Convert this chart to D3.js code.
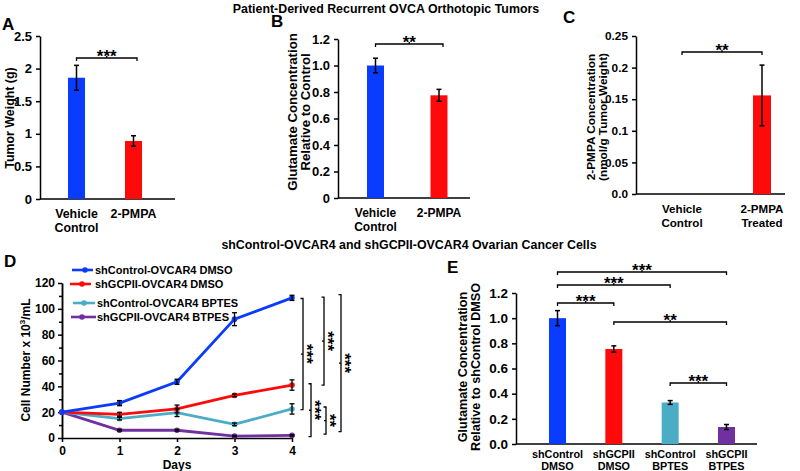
<!DOCTYPE html>
<html><head><meta charset="utf-8">
<script src="https://cdn.jsdelivr.net/npm/d3@7"></script>
<style>
body{margin:0;background:#fff;}
svg{display:block;font-family:"Liberation Sans",Arial,sans-serif;font-weight:bold;}
</style></head>
<body><svg id="c" width="800" height="471"></svg>
<script>
// ---------- DATA ----------
const titleTop = "Patient-Derived Recurrent OVCA Orthotopic Tumors";
const titleBottom = "shControl-OVCAR4 and shGCPII-OVCAR4 Ovarian Cancer Cells";

const catA = [["Vehicle","Control"],["2-PMPA"]];
const tumorWeight = [1.86, 0.89];
const tumorWeightErr = [0.19, 0.08];
const ticksA = [0, 0.5, 1, 1.5, 2, 2.5];
const tickLabelsA = ["0","0.5","1","1.5","2","2.5"];

const catB = [["Vehicle","Control"],["2-PMPA"]];
const glutB = [1.0, 0.775];
const glutBErr = [0.055, 0.045];
const ticksB = [0, 0.2, 0.4, 0.6, 0.8, 1.0, 1.2];
const tickLabelsB = ["0","0.2","0.4","0.6","0.8","1.0","1.2"];

const catC = [["Vehicle","Control"],["2-PMPA","Treated"]];
const pmpaConc = [0, 0.156];
const pmpaConcErr = [0, 0.048];
const ticksC = [0, 0.05, 0.1, 0.15, 0.2, 0.25];
const tickLabelsC = ["0.0","0.05","0.1","0.15","0.2","0.25"];

const days = [0, 1, 2, 3, 4];
const seriesNames = ["shControl-OVCAR4 DMSO","shGCPII-OVCAR4 DMSO","shControl-OVCAR4 BPTES","shGCPII-OVCAR4 BTPES"];
const shCtrlDMSO = [20, 27, 43.5, 92, 108.5];
const shCtrlDMSOErr = [0.5, 2, 2, 5, 2];
const shGCPIIDMSO = [20, 18.3, 22.5, 33, 41];
const shGCPIIDMSOErr = [0.5, 1.5, 3, 1, 4];
const shCtrlBPTES = [20, 15, 19.6, 10.6, 22.5];
const shCtrlBPTESErr = [0.5, 1, 3, 1, 4];
const shGCPIIBTPES = [20, 6, 6, 1.5, 2];
const shGCPIIBTPESErr = [0.5, 0.6, 0.6, 0.5, 0.5];
const ticksD = [0, 20, 40, 60, 80, 100, 120];
const minorTicksD = [10, 30, 50, 70, 90, 110];

const catE = [["shControl","DMSO"],["shGCPII","DMSO"],["shControl","BPTES"],["shGCPII","BTPES"]];
const glutE = [1.0, 0.755, 0.33, 0.135];
const glutEErr = [0.06, 0.025, 0.015, 0.02];
const ticksE = [0, 0.2, 0.4, 0.6, 0.8, 1.0, 1.2];
const tickLabelsE = ["0.0","0.2","0.4","0.6","0.8","1.0","1.2"];

// significance annotations
const sigA = [{from:0, to:1, label:"***"}];
const sigB = [{from:0, to:1, label:"**"}];
const sigC = [{from:0, to:1, label:"**"}];
const sigE = [{from:0,to:3,label:"***"},{from:0,to:2,label:"***"},{from:0,to:1,label:"***"},{from:1,to:3,label:"**"},{from:2,to:3,label:"***"}];
// D: vertical brackets (value ranges on the y scale)
const sigD = [
  {lo:22, hi:108, label:"***"},
  {lo:41, hi:109, label:"***"},
  {lo:5, hi:111, label:"***"},
  {lo:1, hi:42, label:"***"},
  {lo:3, hi:24, label:"**"}
];

// ---------- DRAW ----------
const svg = d3.select("#c");
const BLUE="#0a3cff", RED="#ff0a0a", CYAN="#4bacc6", PURPLE="#7030a0";

function txt(g, x, y, s, size, anchor){
  return g.append("text").attr("x",x).attr("y",y).text(s)
    .attr("font-size",size).attr("text-anchor",anchor||"middle").attr("fill","#000");
}

svg.append("text").attr("x",386).attr("y",12.5).attr("text-anchor","middle").attr("font-size",12.4).text(titleTop);
svg.append("text").attr("x",409).attr("y",249).attr("text-anchor","middle").attr("font-size",12.4).text(titleBottom);

function styleAxis(g, fs){
  g.select(".domain").attr("stroke","#000").attr("stroke-width",1.5);
  g.selectAll(".tick line").attr("stroke","#000").attr("stroke-width",1.5);
  g.selectAll(".tick text").attr("font-size",fs||12).attr("font-weight","bold").attr("fill","#000")
    .attr("font-family","Liberation Sans, Arial, sans-serif");
}

const STAR = 17;

function barPanel(o){
  const g = svg.append("g");
  const y = d3.scaleLinear().domain([0, o.max]).range([o.yBot, o.yTop]);
  const x = d3.scalePoint().domain(o.cats.map((d,i)=>i)).range(o.xr);
  const ax = g.append("g").attr("transform",`translate(${o.x0},0)`)
    .call(d3.axisLeft(y).tickValues(o.ticks).tickFormat((d,i)=>o.tickLabels[i]).tickSize(4).tickSizeOuter(0));
  styleAxis(ax, o.tickFs);
  ax.selectAll(".tick text").attr("dx",-1);
  g.append("line").attr("x1",o.x0).attr("x2",o.xEnd).attr("y1",o.yBot).attr("y2",o.yBot)
    .attr("stroke","#000").attr("stroke-width",1.5);
  const bw = o.bw || 17;
  o.vals.forEach((v,i)=>{
    if (v>0){
      g.append("rect").attr("x",x(i)-bw/2).attr("width",bw).attr("y",y(v)).attr("height",y(0)-y(v))
        .attr("fill",o.colors[i]);
    }
    const e=o.errs[i];
    if (e>0){
      g.append("line").attr("x1",x(i)).attr("x2",x(i)).attr("y1",y(v+e)).attr("y2",y(v-e)).attr("stroke","#000").attr("stroke-width",1.5);
      [v+e,v-e].forEach(t=>g.append("line").attr("x1",x(i)-2.5).attr("x2",x(i)+2.5).attr("y1",y(t)).attr("y2",y(t)).attr("stroke","#000").attr("stroke-width",1.5));
    }
  });
  o.cats.forEach((lines,i)=>{
    lines.forEach((s,j)=>txt(g, x(i), o.yBot+o.catDy+j*o.catLh, s, o.catFs));
  });
  txt(g, o.letter[1], o.letter[2], o.letter[0], 17, "start");
  const yl = g.append("text").attr("transform",`translate(${o.ylab[0]},${o.ylab[1]}) rotate(-90)`)
    .attr("text-anchor","middle").attr("font-size",o.ylabFs);
  o.ylabLines.forEach((s,j)=>yl.append("tspan").attr("x",0).attr("dy", j===0?0:o.ylabLh).text(s));
  o.sig.forEach((s,k)=>{
    const by = o.sigY[k];
    const x1 = x(s.from)+(o.sigOff?o.sigOff[k][0]:0), x2 = x(s.to)+(o.sigOff?o.sigOff[k][1]:0);
    const p = d3.path();
    p.moveTo(x1, by+3); p.lineTo(x1, by); p.lineTo(x2, by); p.lineTo(x2, by+3);
    g.append("path").attr("d",p.toString()).attr("fill","none").attr("stroke","#000").attr("stroke-width",1.3);
    g.append("line").attr("x1",(x1+x2)/2).attr("x2",(x1+x2)/2).attr("y1",by).attr("y2",by-2).attr("stroke","#000").attr("stroke-width",1.3);
    txt(g,(x1+x2)/2, by+4, s.label, STAR);
  });
  return {x,y};
}

barPanel({cats:catA, vals:tumorWeight, errs:tumorWeightErr, colors:[BLUE,RED], max:2.5,
  ticks:ticksA, tickLabels:tickLabelsA, tickFs:13, catFs:12.4, catDy:18.5, catLh:14.5,
  x0:40, xEnd:175, yBot:199, yTop:36, xr:[76.5,133.5],
  letter:["A",2,30], ylab:[14,118], ylabFs:12.4, ylabLh:13, ylabLines:["Tumor Weight (g)"], sig:sigA, sigY:[58], sigOff:[[0,3.5]]});

barPanel({cats:catB, vals:glutB, errs:glutBErr, colors:[BLUE,RED], max:1.2,
  ticks:ticksB, tickLabels:tickLabelsB, tickFs:13, catFs:12, catDy:18.5, catLh:14.5,
  x0:338, xEnd:470, yBot:198, yTop:39, xr:[375.5,439],
  letter:["B",271,27], ylab:[297,112], ylabFs:13.2, ylabLh:12.5, ylabLines:["Glutamate Concentration","Relative to Control"], sig:sigB, sigY:[44], sigOff:[[0,4]]});

barPanel({cats:catC, vals:pmpaConc, errs:pmpaConcErr, colors:[BLUE,RED], max:0.25, bw:18,
  ticks:ticksC, tickLabels:tickLabelsC, tickFs:11.8, catFs:11.6, catDy:18.5, catLh:14,
  x0:636, xEnd:785, yBot:194, yTop:36, xr:[682,762],
  letter:["C",563,23], ylab:[595,117], ylabFs:11.8, ylabLh:11.5, ylabLines:["2-PMPA Concentration","(nmol/g Tumor Weight)"], sig:sigC, sigY:[52]});

barPanel({cats:catE, vals:glutE, errs:glutEErr, colors:[BLUE,RED,CYAN,PURPLE], max:1.2,
  ticks:ticksE, tickLabels:tickLabelsE, tickFs:13.5, catFs:10.8, catDy:14, catLh:11.5,
  x0:516, xEnd:757, yBot:444, yTop:293, xr:[557.5,726.5],
  letter:["E",447,273], ylab:[467,367], ylabFs:12.6, ylabLh:13, ylabLines:["Glutamate Concentration","Relative to shControl DMSO"],
  sig:sigE, sigY:[272,285,303,322,383]});

// ---------- Panel D ----------
(function(){
  const g = svg.append("g");
  const x = d3.scaleLinear().domain([0,4]).range([62,292]);
  const y = d3.scaleLinear().domain([0,120]).range([438,283]);
  const axl = g.append("g").attr("transform","translate(62,0)")
    .call(d3.axisLeft(y).tickValues(ticksD).tickFormat(d3.format("d")).tickSize(4).tickSizeOuter(0));
  styleAxis(axl, 12);
  const axm = g.append("g").attr("transform","translate(62,0)")
    .call(d3.axisLeft(y).tickValues(minorTicksD).tickFormat("").tickSize(3).tickSizeOuter(0));
  styleAxis(axm);
  const axb = g.append("g").attr("transform","translate(0,438)")
    .call(d3.axisBottom(x).tickValues(days).tickFormat(d3.format("d")).tickSize(4).tickSizeOuter(0));
  styleAxis(axb, 12);
  axb.selectAll(".tick text").attr("dy","0.85em");
  txt(g, 177, 469, "Days", 12);
  txt(g, 4, 267, "D", 17, "start");
  const yl = g.append("text").attr("transform","translate(30,360) rotate(-90)").attr("text-anchor","middle")
    .attr("font-size",12);
  yl.append("tspan").text("Cell Number x 10");
  yl.append("tspan").attr("font-size",8).attr("dy",-5).text("3");
  yl.append("tspan").attr("dy",5).text("/mL");

  const series = [
    {v:shCtrlDMSO, e:shCtrlDMSOErr, c:BLUE},
    {v:shGCPIIDMSO, e:shGCPIIDMSOErr, c:RED},
    {v:shCtrlBPTES, e:shCtrlBPTESErr, c:CYAN},
    {v:shGCPIIBTPES, e:shGCPIIBTPESErr, c:PURPLE}
  ];
  const line = d3.line().x((d,i)=>x(days[i])).y(d=>y(d));
  [3,2,1,0].forEach(k=>{
    const s = series[k];
    g.append("path").attr("d",line(s.v)).attr("fill","none").attr("stroke",s.c).attr("stroke-width",2.8);
    s.v.forEach((v,i)=>{
      g.append("circle").attr("cx",x(days[i])).attr("cy",y(v)).attr("r",2.8).attr("fill",s.c);
    });
  });
  series.forEach(s=>{
    s.v.forEach((v,i)=>{
      if (i===0) return;
      const e=s.e[i], cx=x(days[i]);
      g.append("line").attr("x1",cx).attr("x2",cx).attr("y1",y(v+e)).attr("y2",y(v-e)).attr("stroke","#000").attr("stroke-width",1.3);
      [v+e,v-e].forEach(t=>g.append("line").attr("x1",cx-2.5).attr("x2",cx+2.5).attr("y1",y(t)).attr("y2",y(t)).attr("stroke","#000").attr("stroke-width",1.3));
    });
  });
  const legY = [270, 284, 303, 317];
  const legX = [[72,93,85,95],[70,91,82,95],[73,95,84,97],[71,96,82,97]];
  series.forEach((s,k)=>{
    const [a,b,d,t]=legX[k];
    g.append("line").attr("x1",a).attr("x2",b).attr("y1",legY[k]).attr("y2",legY[k]).attr("stroke",s.c).attr("stroke-width",2.6);
    g.append("circle").attr("cx",d).attr("cy",legY[k]).attr("r",2.8).attr("fill",s.c);
    txt(g, t, legY[k]+4, seriesNames[k], 11, "start");
  });
  const bx = [303, 324, 341, 311, 326];
  sigD.forEach((s,k)=>{
    const X = bx[k], y1 = y(s.hi), y2 = y(s.lo);
    const p = d3.path();
    p.moveTo(X-2.5,y1); p.lineTo(X,y1); p.lineTo(X,y2); p.lineTo(X-2.5,y2);
    g.append("path").attr("d",p.toString()).attr("fill","none").attr("stroke","#000").attr("stroke-width",1.3);
    const my=(y1+y2)/2;
    g.append("line").attr("x1",X-2).attr("x2",X).attr("y1",my).attr("y2",my).attr("stroke","#000").attr("stroke-width",1.3);
    g.append("text").attr("transform",`translate(${X-2},${my}) rotate(90)`).attr("text-anchor","middle")
      .attr("font-size",STAR).text(s.label);
  });
})();
</script></body></html>
